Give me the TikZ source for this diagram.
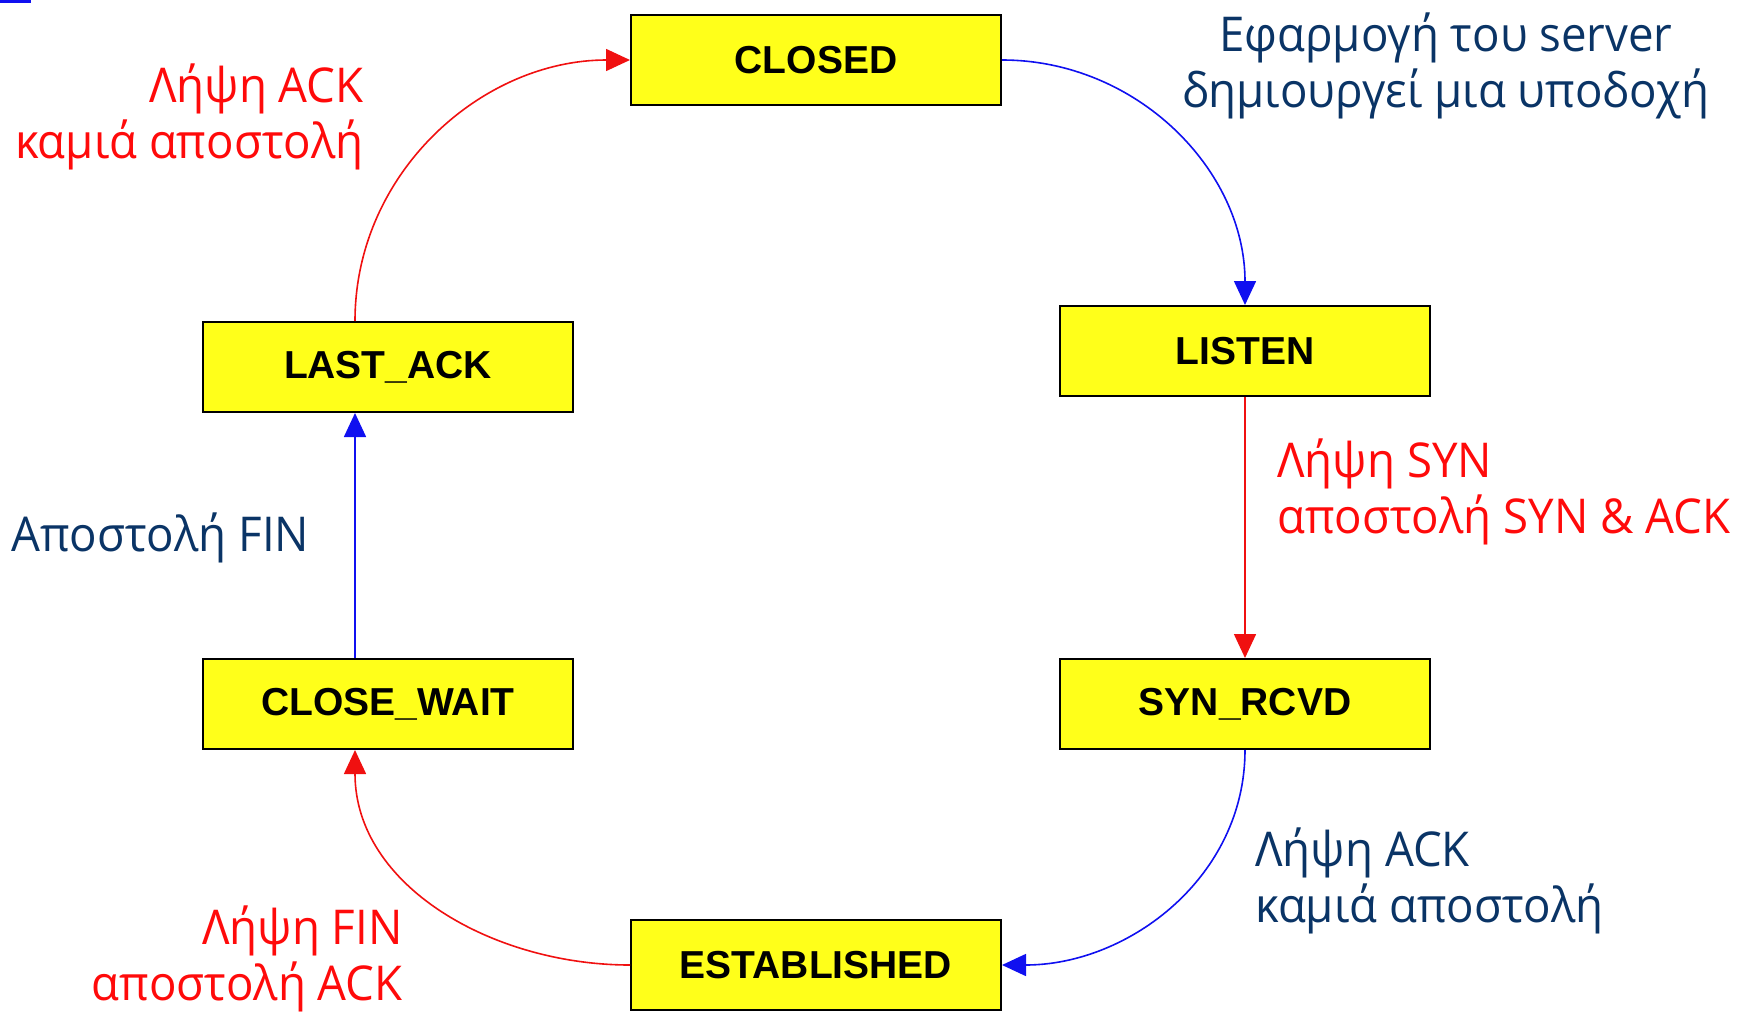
\documentclass[tikz,border=0pt]{standalone}
\usepackage{fontspec}
\usetikzlibrary{arrows.meta}
\newfontfamily\boxfont{Liberation Sans}
\newfontfamily\lblfont[FakeStretch=0.95]{Open Sans}
\definecolor{boxyellow}{HTML}{FFFF1A}
\definecolor{linered}{HTML}{F01010}
\definecolor{lineblue}{HTML}{1010F0}
\definecolor{txtred}{HTML}{FF0A0A}
\definecolor{txtnavy}{HTML}{0A3466}
\tikzset{
  state/.style={draw=black, line width=1pt, fill=boxyellow, inner sep=0pt,
    minimum width=185pt, minimum height=45pt,
    font=\boxfont\bfseries\fontsize{19.5}{22}\selectfont},
  lbl/.style={inner sep=0pt, font=\lblfont\fontsize{24}{28}\selectfont},
  redarr/.style={draw=linered, line width=0.8pt, -{Triangle[length=12pt,width=11pt]}},
  bluearr/.style={draw=lineblue, line width=0.8pt, -{Triangle[length=12pt,width=11pt]}}
}
\begin{document}
\begin{tikzpicture}[x=0.5pt,y=-0.5pt]
        \useasboundingbox (0,0) rectangle (1757,1012);
        \fill[lineblue] (0,0) rectangle (31,3);
        % states
        \foreach \nm/\x/\y/\txt in {closed/816/60/CLOSED, listen/1245/351/LISTEN,
            synrcvd/1245/704/SYN\_RCVD, estab/816/965/ESTABLISHED,
            closewait/388/704/CLOSE\_WAIT, lastack/388/367/LAST\_ACK}
            \node[state] (\nm) at (\x,\y) {\txt};
        % transitions
        \draw[bluearr] (closed.east) to[out=0,in=90] (listen.north);
        \draw[redarr] (listen.south) -- (synrcvd.north);
        \draw[bluearr] (synrcvd.south) to[out=-90,in=0] (estab.east);
        \draw[redarr] (estab.west) to[out=180,in=-90] ([xshift=-16.5pt]closewait.south);
        \draw[bluearr] ([xshift=-16.5pt]closewait.north) -- ([xshift=-16.5pt]lastack.south);
        \draw[redarr] ([xshift=-16.5pt]lastack.north) to[out=90,in=180] (closed.west);
        % labels
        \node[lbl, txtnavy, align=center] (srvapp) at (1446,66) {Εφαρμογή του server\\δημιουργεί μια υποδοχή};
        \node[lbl, txtred, align=left, anchor=west] (synrcv) at (1277,492) {Λήψη SYN\\αποστολή SYN \& ACK};
        \node[lbl, txtnavy, align=left, anchor=west] (ackest) at (1255,881) {Λήψη ACK\\καμιά αποστολή};
        \node[lbl, txtred, align=right, anchor=east] (finrcv) at (403,959) {Λήψη FIN\\αποστολή ACK};
        \node[lbl, txtnavy, anchor=west] (finsend) at (11,538) {Αποστολή FIN};
        \node[lbl, txtred, align=right, anchor=east] (ackclosed) at (364,117) {Λήψη ACK\\καμιά αποστολή};
    \end{tikzpicture}
\end{document}
